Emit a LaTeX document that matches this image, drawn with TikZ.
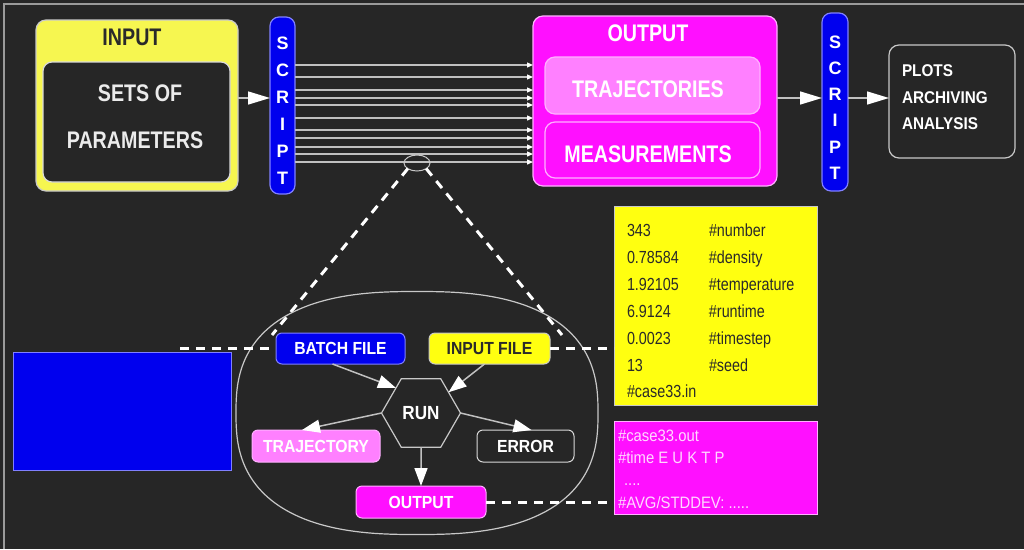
\documentclass[tikz,border=0pt]{standalone}
\usepackage{fontspec}
\setmainfont{Liberation Sans}
\newfontfamily\nfA[FakeStretch=0.82]{Liberation Sans}
\newfontfamily\nfB[FakeStretch=0.9]{Liberation Sans}
\usetikzlibrary{arrows.meta,shapes.geometric}
\definecolor{bg}{HTML}{262626}
\definecolor{ylw}{HTML}{F6F650}
\definecolor{ylwb}{HTML}{FFFF10}
\definecolor{mag}{HTML}{FF10FF}
\definecolor{pinkc}{HTML}{FF80FF}
\definecolor{blu}{HTML}{0000EE}
\definecolor{edge}{HTML}{C8C8C8}
\definecolor{bluedge}{HTML}{8080FF}
\definecolor{pinkedge}{HTML}{FFB0FF}
\definecolor{txtdark}{HTML}{2A2A2A}
\definecolor{linegray}{HTML}{C0C0C0}
\definecolor{framegray}{HTML}{9A9A9A}
\definecolor{magtext}{HTML}{FFD8FF}
\begin{document}
\begin{tikzpicture}[x=1pt,y=-1pt,
  every node/.style={inner sep=0pt,outer sep=0pt},
  box/.style={draw=edge,line width=1.2pt,rounded corners=8pt},
  scriptbox/.style={draw=bluedge,line width=1.2pt,rounded corners=9pt,fill=blu},
  toplbl/.style={font=\nfA\bfseries\fontsize{24}{28}\selectfont},
  lbl/.style={font=\nfB\bfseries\fontsize{17.5}{21}\selectfont},
  smallbox/.style={draw=edge,line width=1pt,rounded corners=6pt,minimum height=31pt,lbl},
  conn/.style={draw=linegray,line width=1.5pt},
  bigarr/.style={conn,-{Triangle[length=22pt,width=13pt,color=white]}},
  midarr/.style={conn,-{Triangle[length=18pt,width=13pt,color=white]}},
  fanarr/.style={draw=linegray,line width=1.3pt,-{Triangle[length=6pt,width=5pt,color=white]}},
  dashln/.style={draw=white,line width=3pt,dash pattern=on 9pt off 7pt}
]
\fill[bg] (0,0) rectangle (1024,549);
\useasboundingbox (0,0) rectangle (1024,549);
\draw[draw=framegray,line width=2pt] (4,549) -- (4,4) -- (1024,4);

% ---------- top row ----------
\node[box,fill=ylw,minimum width=202pt,minimum height=171pt,rounded corners=10pt] (inbox) at (137,105.5) {};
\node[draw=white!85!black,line width=1.2pt,rounded corners=9pt,fill=bg,minimum width=187pt,minimum height=120pt] (params) at (136.5,122) {};
\node[toplbl,text=txtdark] (intitle) at (132,37) {INPUT};
\node[toplbl,text=white!92!black] (sets) at (140,93) {SETS OF};
\node[toplbl,text=white!92!black] (paramtxt) at (135,140) {PARAMETERS};

\node[scriptbox,minimum width=25pt,minimum height=177pt] (script1) at (282.5,105.5) {};
\node[font=\bfseries\fontsize{18}{27}\selectfont,text=white,align=center] (s1txt) at (282.5,110.5) {S\\C\\R\\I\\P\\T};

\node[box,fill=mag,draw=pinkedge,minimum width=244pt,minimum height=170pt,rounded corners=10pt] (outbox) at (655,101) {};
\node[toplbl,text=white] (outtitle) at (648,33) {OUTPUT};
\node[box,fill=pinkc,draw=pinkedge,minimum width=215pt,minimum height=57pt,rounded corners=10pt] (traj) at (652.5,85.5) {};
\node[toplbl,text=white] (trajtxt) at (648,89) {TRAJECTORIES};
\node[box,fill=mag,draw=pinkedge,minimum width=215pt,minimum height=56pt,rounded corners=10pt] (meas) at (652.5,150) {};
\node[toplbl,text=white] (meastxt) at (648,154) {MEASUREMENTS};

\node[scriptbox,minimum width=26pt,minimum height=178pt] (script2) at (835,102) {};
\node[font=\bfseries\fontsize{18}{26.2}\selectfont,text=white,align=center] (s2txt) at (835,107.5) {S\\C\\R\\I\\P\\T};

\node[box,fill=bg,minimum width=126pt,minimum height=113pt,rounded corners=10pt] (plots) at (952,101.5) {};
\node[font=\nfB\bfseries\fontsize{17}{26.5}\selectfont,text=white,align=left,anchor=west] (plotstxt) at (902,97.5) {PLOTS\\ARCHIVING\\ANALYSIS};

% top connectors
\coordinate (a98) at (0,98);
\draw[bigarr] (inbox.east |- a98) -- (script1.west |- a98);
\draw[bigarr] (outbox.east |- a98) -- (script2.west |- a98);
\draw[bigarr] (script2.east |- a98) -- (plots.west |- a98);
\foreach \yy in {65,77,90,98,105,118,130,138,147,154,162}{
  \coordinate (fy) at (0,\yy);
  \draw[fanarr] (script1.east |- fy) -- (outbox.west |- fy);
}

% ---------- zoom detail ----------
\node[ellipse,draw=edge,line width=1pt,minimum width=26pt,minimum height=16pt] (zoomsrc) at (417,163) {};
\coordinate (zl) at (272,335);
\coordinate (zr) at (562,335);
\draw[dashln] (zoomsrc.south west) -- (zl);
\draw[dashln] (zoomsrc.south east) -- (zr);

\draw[draw=edge,line width=1.2pt] plot[domain=1:359,samples=180]
  ({417+181*sign(cos(\x))*pow(abs(cos(\x)),0.78)},{413+121.5*sign(sin(\x))*pow(abs(sin(\x)),0.78)}) -- cycle;

% blue rectangle and parameter/result blocks
\node[fill=blu,draw=bluedge,line width=1pt,minimum width=218pt,minimum height=118pt] (bluerect) at (122,411) {};
\node[fill=ylwb,draw=edge,line width=1pt,minimum width=203pt,minimum height=199pt] (pfile) at (715.5,305.5) {};
\node[fill=mag,draw=pinkedge,line width=1pt,minimum width=203pt,minimum height=93pt] (rfile) at (715.5,467.5) {};

\node[anchor=west,text=txtdark,font=\nfA\fontsize{17.5}{26.9}\selectfont,align=left] (ptext) at (627,311)
 {\makebox[82pt][l]{343}\#number\\
  \makebox[82pt][l]{0.78584}\#density\\
  \makebox[82pt][l]{1.92105}\#temperature\\
  \makebox[82pt][l]{6.9124}\#runtime\\
  \makebox[82pt][l]{0.0023}\#timestep\\
  \makebox[82pt][l]{13}\#seed\\
  \#case33.in};
\node[anchor=west,text=magtext,font=\nfB\fontsize{16.5}{22.3}\selectfont,align=left] (rtext) at (618,469)
 {\#case33.out\\
  \#time E U K T P\\
  \hspace*{6pt}....\\
  \#AVG/STDDEV: .....};

% ---------- inner flow ----------
\node[smallbox,fill=blu,draw=bluedge,minimum width=129pt,text=white] (batch) at (340.5,348.5) {BATCH FILE};
\node[smallbox,fill=ylwb,minimum width=121pt,text=txtdark] (infile) at (489.5,348.5) {INPUT FILE};
\node[regular polygon,regular polygon sides=6,draw=edge,line width=1.2pt,minimum size=79pt,
      font=\nfB\bfseries\fontsize{19}{22}\selectfont,text=white] (run) at (421,413) {RUN};
\node[smallbox,fill=pinkc,draw=pinkedge,minimum width=128pt,minimum height=32pt,text=white] (trajs) at (316,446) {TRAJECTORY};
\node[smallbox,fill=bg,draw=white!85!black,minimum width=97pt,minimum height=32pt,text=white] (err) at (525.5,446) {ERROR};
\node[smallbox,fill=mag,draw=pinkedge,minimum width=130pt,minimum height=32pt,text=white] (outs) at (421,502) {OUTPUT};

\draw[midarr] ([xshift=-8pt]batch.south) -- (run.135);
\draw[midarr] ([xshift=-5pt]infile.south) -- (run.37);
\draw[midarr] (run.west) -- ([xshift=-14pt]trajs.north);
\draw[midarr] (run.east) -- ([xshift=6pt]err.north);
\draw[midarr] (run.south) -- (outs.north);

% dashed links
\coordinate (bstart) at (180,348.5);
\draw[dashln] (bstart) -- (batch.west);
\draw[dashln] (infile.east) -- (infile.east -| pfile.west);
\draw[dashln] (outs.east) -- (outs.east -| rfile.west);
\end{tikzpicture}
\end{document}
